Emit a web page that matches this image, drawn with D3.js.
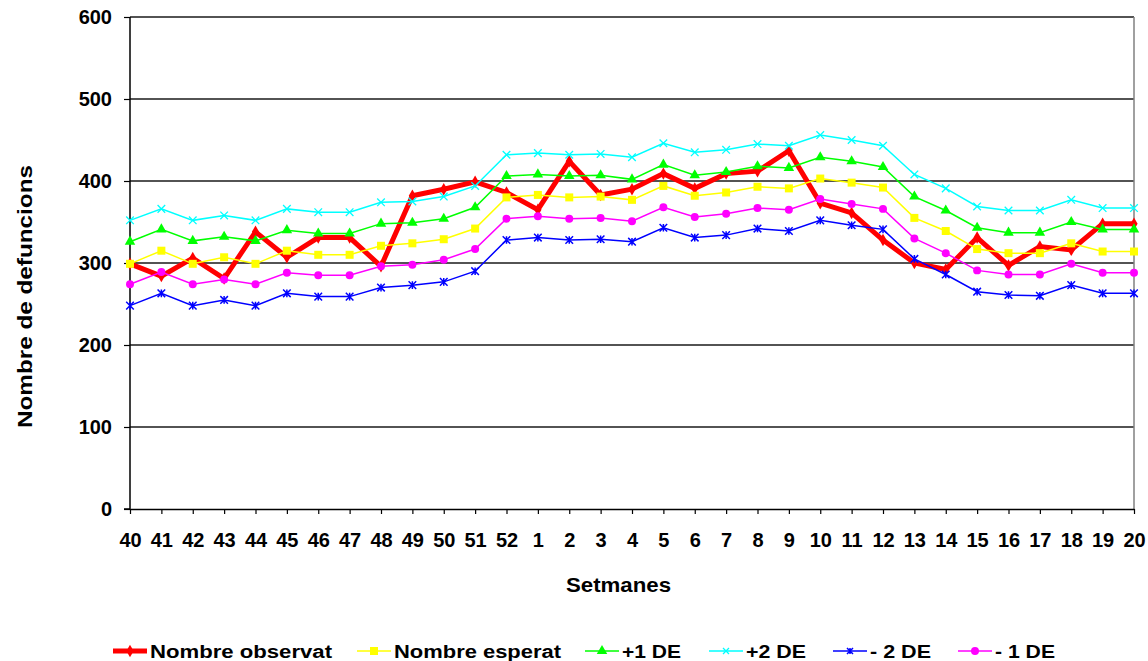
<!DOCTYPE html>
<html>
<head>
<meta charset="utf-8">
<script src="https://cdn.jsdelivr.net/npm/d3@7"></script>
<style>
  html, body { margin: 0; padding: 0; background: #fff; }
  svg { display: block; font-family: "Liberation Sans", Arial, sans-serif; font-weight: bold; }
</style>
</head>
<body>
<svg id="chart" width="1148" height="661"></svg>
<script>
// ---- data ----
const weeks = ["40","41","42","43","44","45","46","47","48","49","50","51","52",
  "1","2","3","4","5","6","7","8","9","10","11","12","13","14","15","16","17","18","19","20"];
const yTicks = [0, 100, 200, 300, 400, 500, 600];

const observat = [299,284,306,281,338,307,331,331,296,382,390,399,386,365,424,383,390,409,391,409,412,437,373,361,328,300,292,331,297,320,316,348,348];
const esperat  = [299,315,299,307,299,315,310,310,321,324,329,342,380,383,380,381,377,394,382,386,393,391,403,398,392,355,339,317,312,312,324,314,314];
const plus1    = [326,341,327,332,327,340,336,336,348,349,354,368,406,408,406,407,402,420,407,411,418,416,429,424,417,381,364,343,337,337,350,341,341];
const plus2    = [352,366,352,358,352,366,362,362,374,375,381,394,432,434,432,433,429,446,435,438,445,443,456,450,443,408,391,369,364,364,377,367,367];
const minus2   = [248,263,248,255,248,263,259,259,270,273,277,290,328,331,328,329,326,343,331,334,342,339,352,346,341,305,286,265,261,260,273,263,263];
const minus1   = [274,289,274,280,274,288,285,285,296,298,304,317,354,357,354,355,351,368,356,360,367,365,378,372,366,330,312,291,286,286,299,288,288];

const seriesNames = ["Nombre observat", "Nombre esperat", "+1 DE", "+2 DE", "- 2 DE", "- 1 DE"];
const seriesValues = [observat, esperat, plus1, plus2, minus2, minus1];

// ---- styles / layout ----
const colors = ["#FF0000", "#FFFF00", "#00FF00", "#00FFFF", "#0000FF", "#FF00FF"];
const widths = [5, 1.5, 1.5, 1.5, 1.5, 1.5];
const markers = ["diamond", "square", "triangle", "x", "asterisk", "circle"];
const legendX = [113, 357, 585, 709, 833, 958];
const legendTextW = [182, 167, 59, 60, 61, 60];

const svg = d3.select("#chart");
const x = d3.scalePoint().domain(weeks).range([130, 1134]).padding(0);
const y = d3.scaleLinear().domain([0, 600]).range([509, 17]);

// gridlines
svg.append("g").selectAll("line").data(yTicks.filter(d => d > 0)).join("line")
  .attr("x1", 130).attr("x2", 1134)
  .attr("y1", d => y(d)).attr("y2", d => y(d))
  .attr("stroke", "#1a1a1a").attr("stroke-width", 1.3);

// right border
svg.append("line").attr("x1", 1134).attr("x2", 1134).attr("y1", y(600)).attr("y2", y(0))
  .attr("stroke", "#808080").attr("stroke-width", 1.5);

// axes
const yAxis = svg.append("g").attr("transform", "translate(130,0)")
  .call(d3.axisLeft(y).tickValues(yTicks).tickSize(6).tickPadding(12).tickFormat(d3.format("d")));
const xAxis = svg.append("g").attr("transform", `translate(0,${y(0)})`)
  .call(d3.axisBottom(x).tickSize(5).tickPadding(19).tickSizeOuter(0));
[yAxis, xAxis].forEach(a => {
  a.select(".domain").attr("stroke", "#000").attr("stroke-width", 1.5);
  a.selectAll(".tick line").attr("stroke", "#000").attr("stroke-width", 1.2);
  a.selectAll("text").attr("fill", "#000")
    .style("font-family", "'Liberation Sans', Arial, sans-serif")
    .style("font-weight", "bold").style("font-size", "20px");
});
yAxis.select(".domain").attr("d", `M-6,${y(0)}H0V${y(600)}`);

// axis titles
svg.append("text").attr("x", 618.5).attr("y", 591.5).attr("text-anchor", "middle")
  .attr("textLength", 105).attr("lengthAdjust", "spacingAndGlyphs")
  .style("font-size", "21px").text("Setmanes");
svg.append("text").attr("transform", "translate(31.5,296.5) rotate(-90)").attr("text-anchor", "middle")
  .attr("textLength", 263).attr("lengthAdjust", "spacingAndGlyphs")
  .style("font-size", "21px").text("Nombre de defuncions");

// marker drawing
function drawMarker(g, type, color, s) {
  if (type === "x") {
    g.append("path").attr("d", `M${-s},${-s}L${s},${s}M${-s},${s}L${s},${-s}`)
      .attr("stroke", color).attr("stroke-width", 1.3).attr("fill", "none");
  } else if (type === "asterisk") {
    g.append("path").attr("d", `M${-s},${-s}L${s},${s}M${-s},${s}L${s},${-s}M0,${-s}L0,${s}`)
      .attr("stroke", color).attr("stroke-width", 1.5).attr("fill", "none");
  } else {
    const sym = { diamond: d3.symbolDiamond, square: d3.symbolSquare, triangle: d3.symbolTriangle, circle: d3.symbolCircle }[type];
    const size = { diamond: 45, square: 64, triangle: 48, circle: 50 }[type];
    g.append("path").attr("d", d3.symbol(sym, size)()).attr("fill", color);
  }
}

// series
const line = d3.line().x((d, i) => x(weeks[i])).y(d => y(d));
seriesValues.forEach((vals, k) => {
  const g = svg.append("g");
  g.append("path").attr("d", line(vals)).attr("fill", "none")
    .attr("stroke", colors[k]).attr("stroke-width", widths[k]).attr("stroke-linejoin", "miter");
  vals.forEach((v, i) => {
    const mg = g.append("g").attr("transform", `translate(${x(weeks[i])},${y(v)})`);
    drawMarker(mg, markers[k], colors[k], 3.8);
  });
});

// legend
seriesNames.forEach((name, k) => {
  const lx = legendX[k], ly = 651;
  const g = svg.append("g");
  g.append("line").attr("x1", lx).attr("x2", lx + 34).attr("y1", ly).attr("y2", ly)
    .attr("stroke", colors[k]).attr("stroke-width", widths[k]);
  const mg = g.append("g").attr("transform", `translate(${lx + 17},${ly})`);
  drawMarker(mg, markers[k], colors[k], 3);
  g.append("text").attr("x", lx + 37).attr("y", 657.5)
    .attr("textLength", legendTextW[k]).attr("lengthAdjust", "spacingAndGlyphs")
    .style("font-size", "18px").text(name);
});
</script>
</body>
</html>
